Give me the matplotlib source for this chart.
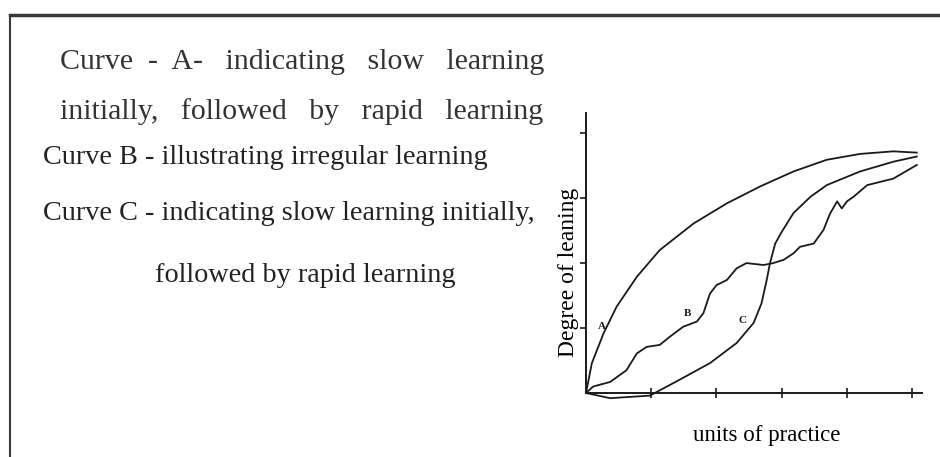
"""
Learning curves A, B and C, drawn as in the textbook figure.
"""

import matplotlib
matplotlib.use('Agg')
import matplotlib.pyplot as plt
from matplotlib.lines import Line2D

# Curve A: fast gain at first, then levelling off
a_x = [0.0, 0.09, 0.27, 0.47, 0.78, 1.13, 1.65, 2.16, 2.67, 3.18, 3.69, 4.20, 4.71, 5.07]
a_y = [0.0, 0.46, 0.92, 1.33, 1.79, 2.20, 2.61, 2.92, 3.18, 3.41, 3.59, 3.68, 3.72, 3.70]

# Curve B: irregular learning
b_x = [0.0, 0.11, 0.37, 0.62, 0.78, 0.93, 1.13, 1.29, 1.49, 1.70, 1.80, 1.90, 2.00,
       2.16, 2.31, 2.46, 2.72, 2.87, 3.03, 3.18, 3.28, 3.49, 3.64, 3.74, 3.85, 3.92,
       4.00, 4.10, 4.31, 4.51, 4.71, 5.07]
b_y = [0.0, 0.10, 0.17, 0.35, 0.61, 0.71, 0.74, 0.87, 1.02, 1.10, 1.23, 1.53, 1.66,
       1.74, 1.92, 2.00, 1.97, 2.00, 2.05, 2.15, 2.25, 2.30, 2.51, 2.76, 2.95, 2.84,
       2.95, 3.02, 3.20, 3.25, 3.30, 3.51]

# Curve C: slow at first, then rapid
c_x = [0.0, 0.37, 0.98, 1.39, 1.90, 2.31, 2.57, 2.69, 2.77, 2.82, 2.90, 3.00, 3.18,
       3.44, 3.69, 4.20, 4.71, 5.07]
c_y = [0.0, -0.08, -0.04, 0.18, 0.46, 0.77, 1.08, 1.38, 1.74, 2.00, 2.30, 2.48, 2.77,
       3.02, 3.20, 3.41, 3.56, 3.64]

x_ticks = [1, 2, 3, 4, 5]
y_ticks = [1, 2, 3, 4]

ink = '#1a1a1a'
serif = ['Liberation Serif', 'DejaVu Serif']

fig = plt.figure(figsize=(9.4, 4.57), dpi=100)
fig.patch.set_facecolor('white')

# page frame (top and left edges of the scanned box)
fig.add_artist(Line2D([10 / 940, 1.0], [1 - 15 / 457, 1 - 15 / 457],
                      transform=fig.transFigure, color='#3a3a3a', lw=2.5))
fig.add_artist(Line2D([10 / 940, 10 / 940], [0.0, 1 - 15 / 457],
                      transform=fig.transFigure, color='#3a3a3a', lw=1.5))

ax = fig.add_axes([586 / 940, 64 / 457, 336 / 940, 280 / 457])
for xs, ys in [(a_x, a_y), (b_x, b_y), (c_x, c_y)]:
    ax.plot(xs, ys, color=ink, lw=1.3, clip_on=False)

ax.set_xlim(0, 5.15)
ax.set_ylim(0, 4.31)
ax.set_xticks(x_ticks)
ax.set_yticks(y_ticks)
ax.tick_params(axis='x', direction='inout', length=7, width=1.2, labelbottom=False, colors=ink)
ax.tick_params(axis='y', direction='out', length=4, width=1.2, labelleft=False, colors=ink)
for side in ['top', 'right']:
    ax.spines[side].set_visible(False)
for side in ['left', 'bottom']:
    ax.spines[side].set_color(ink)
    ax.spines[side].set_linewidth(1.4)

# curve letters
for letter, lx, ly in [('A', 0.24, 1.02), ('B', 1.56, 1.23), ('C', 2.40, 1.12)]:
    ax.text(lx, ly, letter, fontsize=8, fontweight='bold', family=serif, color=ink,
            ha='center', va='center')

ax.set_ylabel('Degree of leaning', family=serif, fontsize=17, color='black',
              va='center', ha='center')
ax.yaxis.set_label_coords(-0.052, 0.43)
ax.set_xlabel('units of practice', family=serif, fontsize=16.5, color='black',
              va='center', ha='center')
ax.xaxis.set_label_coords(0.539, -0.15)

# explanatory text on the left
fig.text(60 / 940, 1 - 62 / 457, 'Curve  -  A-   indicating   slow   learning',
         family=serif, fontsize=21.5, color='#333333', va='center', ha='left')
fig.text(60 / 940, 1 - 112 / 457, 'initially,   followed   by   rapid   learning',
         family=serif, fontsize=21.5, color='#333333', va='center', ha='left')
fig.text(43 / 940, 1 - 158 / 457, 'Curve B - illustrating irregular learning',
         family=serif, fontsize=20.3, color='#222222', va='center', ha='left')
fig.text(43 / 940, 1 - 213 / 457, 'Curve C - indicating slow learning initially,',
         family=serif, fontsize=20.3, color='#222222', va='center', ha='left')
fig.text(155 / 940, 1 - 275 / 457, 'followed by rapid learning',
         family=serif, fontsize=20.3, color='#222222', va='center', ha='left')

fig.savefig('out.png', dpi=100, facecolor='white')
